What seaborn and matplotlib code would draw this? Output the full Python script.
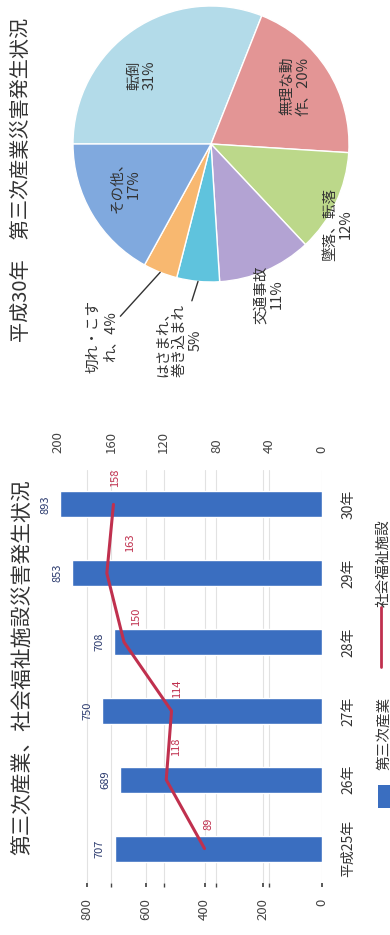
import matplotlib
matplotlib.use('Agg')
import numpy as np
import matplotlib.pyplot as plt
import seaborn as sns
import pandas as pd
from matplotlib.patches import Rectangle
from matplotlib.lines import Line2D

# bar / line chart data
years = ['平成25年', '26年', '27年', '28年', '29年', '30年']
tertiary = [707, 689, 750, 708, 853, 893]
welfare = [89, 118, 114, 150, 163, 158]

# pie data
pie_cats = ['転倒', '無理な動作', '墜落、転落', '交通事故', 'はさまれ、巻き込まれ', '切れ・こすれ', 'その他']
pie_share = [31, 20, 12, 11, 5, 4, 17]
pie_text = ['転倒\n31%', '無理な動\n作、20%', '墜落、転落\n12%', '交通事故\n11%',
            'はさまれ、\n巻き込まれ\n5%', '切れ・こす\nれ、4%', 'その他、\n17%']
pie_colors = ['#b3dbe9', '#e39595', '#bcd88a', '#b3a3d3', '#5fc3dd', '#f8b870', '#80a9de']

sns.set_theme(style='white')
plt.rcParams['font.family'] = ['Noto Sans CJK JP', 'DejaVu Sans']

W, H = 390, 935
fig = plt.figure(figsize=(W / 100, H / 100), dpi=100)


def fx(px):
    return px / W


def fy(py):
    return 1 - py / H


BLUE = '#3a6ec0'
RED = '#c0304e'
NAVY = '#2b3a6e'
TXT = '#333333'

# ---- bar + line chart (drawn rotated) ----
df = pd.DataFrame({'year': years, 'tertiary': tertiary, 'welfare': welfare})
order = years[::-1]
ax = fig.add_axes([fx(58), fy(883), fx(322) - fx(58), fy(470) - fy(883)])
sns.barplot(data=df, x='tertiary', y='year', order=order, orient='h',
            color=BLUE, width=0.38, saturation=1, ax=ax)
ax.set_xlim(900, 0)
ax.set_ylim(5.5, -0.5)
ax.set_xticks(range(0, 801, 200))
ax.set_xticks([v * 900 / 200 for v in range(0, 161, 40)], minor=True)
ax.set_axisbelow(True)
ax.grid(which='both', axis='x', color='#e2e2e2', lw=0.8)
ax.tick_params(axis='x', which='both', labelrotation=90, labelsize=9.5,
               colors='#444444', length=3, pad=8)
for t in ax.get_xticklabels():
    t.set_va('top')
    t.set_ha('center')
ax.yaxis.tick_right()
ax.tick_params(axis='y', labelrotation=90, labelsize=10, length=0, pad=14,
               labelcolor=TXT)
for t in ax.get_yticklabels():
    t.set_va('center')
    t.set_ha('left')
ax.set_xlabel('')
ax.set_ylabel('')
for s in ax.spines.values():
    s.set_visible(False)

ax.bar_label(ax.containers[0], padding=7, rotation=90, color=NAVY, fontsize=8)

ax2 = ax.twiny()
pos = [order.index(y) for y in years]
sns.lineplot(x=welfare, y=pos, sort=False, orient='y', color=RED, lw=2.2, ax=ax2)
ax2.set_xlim(200, 0)
ax2.set_ylim(5.5, -0.5)
ax2.set_xticks(range(0, 201, 40))
ax2.tick_params(axis='x', labelrotation=90, labelsize=9.5, colors='#444444',
                length=0, pad=12)
for t in ax2.get_xticklabels():
    t.set_va('bottom')
    t.set_ha('center')
ax2.set_xlabel('')
ax2.set_ylabel('')
for s in ax2.spines.values():
    s.set_visible(False)

offs = [(3, 18), (7, 24), (4, 16), (9, 18), (17, 22), (1, 19)]
for v, p, o in zip(welfare, pos, offs):
    ax2.annotate(str(v), xy=(v, p), xytext=o, textcoords='offset points',
                 rotation=90, ha='center', va='center', color=RED, fontsize=8)

fig.text(fx(23), fy(667), '第三次産業、社会福祉施設災害発生状況', rotation=90,
         ha='center', va='center', fontsize=15, color=TXT)

# legend (rotated)
fig.add_artist(Rectangle((fx(378), fy(808)), fx(12), fy(785) - fy(808),
                         transform=fig.transFigure, color=BLUE, lw=0))
fig.text(fx(384), fy(733), '第三次産業', rotation=90, ha='center', va='center',
         fontsize=10.5, color=TXT)
fig.add_artist(Line2D([fx(381), fx(381)], [fy(667), fy(607)],
                      transform=fig.transFigure, color=RED, lw=2))
fig.text(fx(384), fy(563), '社会福祉施設', rotation=90, ha='center', va='center',
         fontsize=10.5, color=TXT)

# ---- pie chart ----
R = 138
pax = fig.add_axes([fx(211 - R), fy(144 + R), fx(2 * R), fy(0) - fy(2 * R)])
wedges, _ = pax.pie(pie_share, colors=pie_colors, startangle=180,
                    counterclock=False, radius=1,
                    wedgeprops=dict(edgecolor='white', linewidth=1))
pax.set_xlim(-1, 1)
pax.set_ylim(-1, 1)
pax.set_aspect('equal')
pax.axis('off')

inside = {0: (-0.50, 0.50), 1: (0.61, 0.42), 2: (0.92, -0.58),
          3: (0.42, -1.09), 6: (-0.62, -0.29)}
for i, xy in inside.items():
    pax.text(xy[0], xy[1], pie_text[i], rotation=90, ha='center', va='center',
             fontsize=10.5, color=TXT, multialignment='center')

leader = {4: (-0.23, -1.16), 5: (-0.79, -1.13)}
for i, xy in leader.items():
    w = wedges[i]
    mid = np.deg2rad((w.theta1 + w.theta2) / 2)
    tip = (np.cos(mid), np.sin(mid))
    pax.annotate(pie_text[i], xy=tip, xytext=xy, textcoords='data',
                 rotation=90, ha='center', va='top', fontsize=10.5, color=TXT,
                 multialignment='center',
                 arrowprops=dict(arrowstyle='-', color='#333333', lw=1,
                                 shrinkA=0, shrinkB=0))

fig.text(fx(22), fy(180), '平成30年　第三次産業災害発生状況', rotation=90,
         ha='center', va='center', fontsize=14.5, color=TXT)

fig.savefig('out.png', dpi=100)
